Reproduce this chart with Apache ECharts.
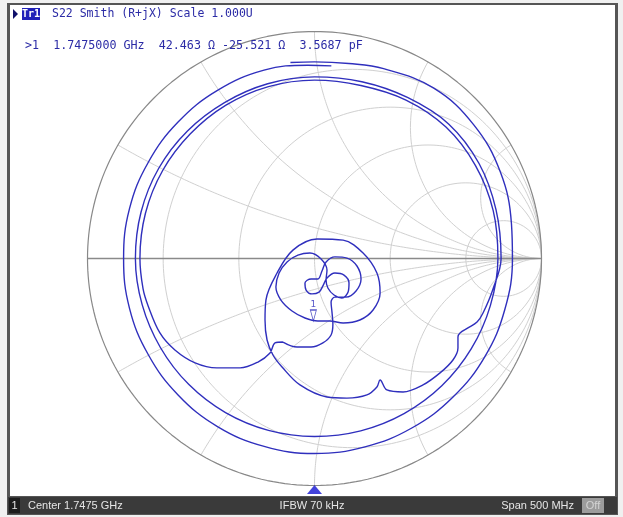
<!DOCTYPE html>
<html><head><meta charset="utf-8">
<script src="https://cdn.jsdelivr.net/npm/echarts@6/dist/echarts.min.js"></script>
<style>html,body{margin:0;padding:0;background:#ffffff}#c{width:623px;height:517px}</style>
</head><body><div id="c"></div><script>
// ---- chart furniture values ----
const resistanceCircles = [0.2, 0.5, 1, 2, 5];
const reactanceArcs = [0.268, 0.577, 1, 1.732, 3.732];

// ---- marker readout ----
const Z0 = 50;
const markerFreq = '1.7475000 GHz';
const markerR = 42.463;
const markerX = -25.521;
const markerC = '3.5687 pF';

// ---- trace: outer ring (|S22|, phase deg) ----
const outerPhase = [97, 90, 80, 70, 55, 40, 25, 10, 0, -15, -30, -45, -60, -75, -90, -105, -120, -135, -150, -165, -180, -195, -210, -225, -240, -255, -268, -275];
const outerMag = [0.870, 0.866, 0.872, 0.890, 0.916, 0.916, 0.903, 0.881, 0.872, 0.868, 0.866, 0.863, 0.861, 0.859, 0.859, 0.857, 0.855, 0.850, 0.846, 0.844, 0.841, 0.844, 0.846, 0.850, 0.855, 0.859, 0.852, 0.852];

// ---- trace: centre loops and lower-right lobe (Re, Im of S22) ----
const centerRe = [-0.139,-0.077,-0.015,0.037,0.073,0.081,0.077,0.073,0.090,0.139,
  0.183,0.205,0.187,0.143,0.090,0.051,0.033,0.015,-0.015,-0.042,
  -0.037,-0.011,0.020,0.037,0.055,0.090,0.130,0.152,0.148,0.121,
  0.086,0.059,0.051,0.055,0.029,-0.020,-0.073,-0.121,-0.156,-0.170,
  -0.148,-0.099,-0.042,0.015,0.068,0.126,0.200,0.258,0.289,0.275,
  0.214,0.126,0.011,-0.095,-0.165,-0.214,-0.218,-0.209,-0.183,-0.143,
  -0.064,0.055,0.143,0.231,0.275,0.289,0.319,0.390,0.478,0.553,
  0.610,0.632,0.632,0.641,0.676,0.716];
const centerIm = [-0.368,-0.390,-0.390,-0.372,-0.337,-0.289,-0.236,-0.192,-0.170,-0.170,
  -0.143,-0.090,-0.033,0.002,0.007,-0.015,-0.055,-0.090,-0.090,-0.108,
  -0.139,-0.156,-0.148,-0.121,-0.086,-0.064,-0.073,-0.108,-0.148,-0.174,
  -0.161,-0.130,-0.095,-0.051,-0.002,0.024,0.015,-0.015,-0.064,-0.126,
  -0.183,-0.231,-0.262,-0.275,-0.275,-0.284,-0.271,-0.227,-0.152,-0.064,
  0.024,0.081,0.086,0.037,-0.064,-0.183,-0.271,-0.359,-0.425,-0.478,
  -0.557,-0.610,-0.615,-0.601,-0.566,-0.535,-0.579,-0.588,-0.557,-0.504,
  -0.447,-0.394,-0.346,-0.328,-0.306,-0.280];

// ---- trace: double ring (|S22|, phase deg, unwrapped) ----
const ringPhase = [-18,-10,0,15,30,45,60,75,90,105,120,135,150,165,180,195,210,225,240,255,270,285,300,315,330,345,360,375,390,405,420,435,450,465,480,495,510,525,540,550,556];
const ringMag = [0.780,0.797,0.822,0.828,0.837,0.837,0.819,0.806,0.800,0.797,0.793,0.793,0.793,0.791,0.789,0.786,0.784,0.784,0.784,0.784,0.784,0.786,0.789,0.793,0.797,0.802,0.808,0.815,0.819,0.819,0.806,0.789,0.786,0.784,0.780,0.775,0.773,0.771,0.769,0.767,0.762];

// ---- trace: lower-left lobe (Re, Im) ----
const bumpRe = [-0.681,-0.615,-0.526,-0.430,-0.328,-0.249,-0.196,-0.174,-0.139];
const bumpIm = [-0.328,-0.403,-0.460,-0.482,-0.482,-0.456,-0.416,-0.372,-0.368];

// ---- status bar texts ----
const statusTexts = { ch: '1', center: 'Center 1.7475 GHz', ifbw: 'IFBW 70 kHz', span: 'Span 500 MHz', off: 'Off' };

// ================= build =================
function polar(m, deg) { const a = deg * Math.PI / 180; return [m * Math.cos(a), m * Math.sin(a)]; }
function gammaFromZ(R, X) {
  const zr = R / Z0, zi = X / Z0;
  const nr = zr - 1, ni = zi, dr = zr + 1, di = zi;
  const d = dr * dr + di * di;
  return [(nr * dr + ni * di) / d, (ni * dr - nr * di) / d];
}
function rCircle(r) {
  const c = r / (r + 1), rad = 1 / (r + 1), pts = [];
  for (let i = 0; i <= 240; i++) { const t = i / 240 * 2 * Math.PI; pts.push([c + rad * Math.cos(t), rad * Math.sin(t)]); }
  return pts;
}
function xArc(x, sign) {
  const R = 1 / x;
  const gx = (x * x - 1) / (x * x + 1), gy = 2 * x / (x * x + 1);
  let end = Math.atan2(gy - R, gx - 1) * 180 / Math.PI;
  if (end > -90) end -= 360;
  const pts = [], n = 160;
  for (let i = 0; i <= n; i++) {
    const p = (-90 + (end + 90) * i / n) * Math.PI / 180;
    pts.push([1 + R * Math.cos(p), sign * (R + R * Math.sin(p))]);
  }
  return pts;
}

const gridColor = '#d0d0d0';
const series = [];
function lineSeries(data, color, width, z) {
  return { type: 'line', data: data, symbol: 'none', silent: true, animation: false, clip: false,
    lineStyle: { color: color, width: width }, z: z };
}
resistanceCircles.forEach(r => series.push(lineSeries(rCircle(r), gridColor, 1, 1)));
reactanceArcs.forEach(x => { series.push(lineSeries(xArc(x, 1), gridColor, 1, 1)); series.push(lineSeries(xArc(x, -1), gridColor, 1, 1)); });
series.push(lineSeries(rCircle(0), '#888888', 1.2, 2));
series.push(lineSeries([[-1, 0], [1, 0]], '#8a8a8a', 1.6, 2));

const traceColor = '#2f2fbd';
const outerRing = outerPhase.map((p, i) => polar(outerMag[i], p));
const mainPath = [];
centerRe.forEach((v, i) => mainPath.push([v, centerIm[i]]));
ringPhase.forEach((p, i) => mainPath.push(polar(ringMag[i], p)));
bumpRe.forEach((v, i) => mainPath.push([v, bumpIm[i]]));
const t1 = lineSeries(outerRing, traceColor, 1.4, 5); t1.smooth = 0.4;
const t2 = lineSeries(mainPath, traceColor, 1.4, 5); t2.smooth = 0.35;
series.push(t1, t2);

// marker 1
series.push({ type: 'scatter', data: [gammaFromZ(markerR, markerX)], silent: true, animation: false, clip: false, z: 6,
  symbol: 'path://M0,0 L10,0 L5,18 Z', symbolSize: [6, 11], symbolOffset: [0, -6],
  itemStyle: { color: 'rgba(255,255,255,0)', borderColor: traceColor, borderWidth: 1 },
  label: { show: true, formatter: '1', position: 'top', distance: 0, color: traceColor, fontSize: 9, fontFamily: 'DejaVu Sans' } });
// stimulus centre indicator at bottom
series.push({ type: 'scatter', data: [[0, -1]], silent: true, animation: false, clip: false, z: 6,
  symbol: 'triangle', symbolSize: [15, 9], symbolOffset: [0, 4], itemStyle: { color: '#1414d2' } });

const mono = '"DejaVu Sans Mono", monospace';
const sans = '"Liberation Sans", Arial, sans-serif';
const option = {
  animation: false,
  backgroundColor: '#f0f0f0',
  grid: { left: 87.5, top: 31.5, width: 454, height: 454 },
  xAxis: { type: 'value', min: -1, max: 1, show: false },
  yAxis: { type: 'value', min: -1, max: 1, show: false },
  graphic: [
    { type: 'rect', shape: { x: 7, y: 3, width: 611, height: 512 }, style: { fill: '#555555' }, z: -10 },
    { type: 'rect', shape: { x: 10, y: 5, width: 605, height: 491 }, style: { fill: '#ffffff' }, z: -9 },
    { type: 'rect', shape: { x: 8, y: 497, width: 609, height: 17 }, style: { fill: '#3a3a3a' }, z: -8 },
    { type: 'polygon', shape: { points: [[13, 9], [13, 19], [18, 14]] }, style: { fill: '#10106a' }, z: 10 },
    { type: 'rect', shape: { x: 22, y: 8, width: 18, height: 12 }, style: { fill: '#2020b8' }, z: 10 },
    { type: 'text', x: 31, y: 14, style: { text: 'Tr1', fill: '#ffffff', font: 'bold 10px ' + mono, textAlign: 'center', textVerticalAlign: 'middle' }, z: 11 },
    { type: 'text', x: 52, y: 14, style: { text: 'S22 Smith (R+jX) Scale 1.000U', fill: '#2b2ba6', font: '11.5px ' + mono, textVerticalAlign: 'middle' }, z: 11 },
    { type: 'text', x: 25, y: 46, style: { text: '>1  ' + markerFreq + '  ' + markerR.toFixed(3) + ' Ω ' + markerX.toFixed(3) + ' Ω  ' + markerC, fill: '#2b2ba6', font: '11.7px ' + mono, textVerticalAlign: 'middle' }, z: 11 },
    { type: 'rect', shape: { x: 9, y: 498, width: 11, height: 15 }, style: { fill: '#1c1c1c' }, z: 10 },
    { type: 'text', x: 14.5, y: 505.5, style: { text: statusTexts.ch, fill: '#e6e6e6', font: '11px ' + sans, textAlign: 'center', textVerticalAlign: 'middle' }, z: 11 },
    { type: 'text', x: 28, y: 505.5, style: { text: statusTexts.center, fill: '#e6e6e6', font: '11px ' + sans, textVerticalAlign: 'middle' }, z: 11 },
    { type: 'text', x: 312, y: 505.5, style: { text: statusTexts.ifbw, fill: '#e6e6e6', font: '11px ' + sans, textAlign: 'center', textVerticalAlign: 'middle' }, z: 11 },
    { type: 'text', x: 574, y: 505.5, style: { text: statusTexts.span, fill: '#e6e6e6', font: '11px ' + sans, textAlign: 'right', textVerticalAlign: 'middle' }, z: 11 },
    { type: 'rect', shape: { x: 582, y: 498, width: 22, height: 15 }, style: { fill: '#9c9c9c' }, z: 10 },
    { type: 'text', x: 593, y: 505.5, style: { text: statusTexts.off, fill: '#d4d4d4', font: '11px ' + sans, textAlign: 'center', textVerticalAlign: 'middle' }, z: 11 }
  ],
  series: series
};
const chart = echarts.init(document.getElementById('c'), null, { renderer: 'canvas' });
chart.setOption(option);
</script></body></html>
